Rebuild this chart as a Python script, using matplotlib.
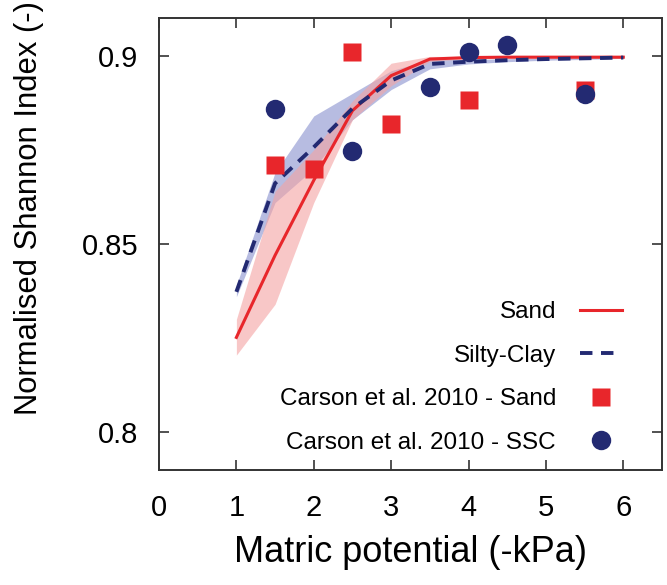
import matplotlib
matplotlib.use("Agg")
import matplotlib.pyplot as plt
import numpy as np

plt.rcParams['font.family'] = ['Liberation Sans', 'DejaVu Sans']

# Model curves
x_model = [1, 1.5, 2, 2.5, 3, 3.5, 4, 4.5, 5, 5.5, 6]
sand_mean = [0.8252, 0.8470, 0.8669, 0.8854, 0.8947, 0.8991, 0.8995, 0.8996, 0.8996, 0.8996, 0.8996]
sand_low = [0.8205, 0.8340, 0.8610, 0.8830, 0.8920, 0.8985, 0.8992, 0.8993, 0.8993, 0.8993, 0.8993]
sand_high = [0.8300, 0.8640, 0.8750, 0.8880, 0.8980, 0.8998, 0.8998, 0.8998, 0.8998, 0.8998, 0.8998]

clay_mean = [0.8373, 0.8661, 0.8757, 0.8860, 0.8934, 0.8978, 0.8984, 0.8988, 0.8991, 0.8993, 0.8995]
clay_low = [0.8360, 0.8610, 0.8700, 0.8830, 0.8910, 0.8965, 0.8978, 0.8984, 0.8988, 0.8990, 0.8993]
clay_high = [0.8390, 0.8690, 0.8840, 0.8900, 0.8960, 0.8990, 0.8990, 0.8992, 0.8994, 0.8996, 0.8997]

# Carson et al. 2010 observations
carson_sand_x = [1.5, 2, 2.5, 3, 4, 5.5]
carson_sand_y = [0.8709, 0.8700, 0.9009, 0.8819, 0.8881, 0.8909]
carson_ssc_x = [1.5, 2.5, 3.5, 4, 4.5, 5.5]
carson_ssc_y = [0.8859, 0.8748, 0.8918, 0.9009, 0.9029, 0.8899]

x_ticks = [0, 1, 2, 3, 4, 5, 6]
y_ticks = [0.8, 0.85, 0.9]
y_ticklabels = ['0.8', '0.85', '0.9']

RED = '#e8262b'
NAVY = '#232a72'

fig = plt.figure(figsize=(6.67, 5.85), dpi=100)
ax = fig.add_axes([159/667, 1-470/585, (662-159)/667, (470-18)/585])

ax.fill_between(x_model, clay_low, clay_high, color='#9fa6d8', alpha=0.75, lw=0, zorder=1)
ax.fill_between(x_model, sand_low, sand_high, color='#f4a3a3', alpha=0.6, lw=0, zorder=1.5)

ax.plot(x_model, sand_mean, color=RED, lw=2.2, label='Sand', zorder=3)
ax.plot(x_model, clay_mean, color=NAVY, lw=2.8, ls=(0, (3.2, 2.2)), label='Silty-Clay', zorder=3)

ax.plot(carson_sand_x, carson_sand_y, ls='none', marker='s', ms=13.5, color=RED,
        mec='none', label='Carson et al. 2010 - Sand', zorder=4)
ax.plot(carson_ssc_x, carson_ssc_y, ls='none', marker='o', ms=14, color=NAVY,
        mec='none', label='Carson et al. 2010 - SSC', zorder=5)

ax.set_xlim(0, 6.5)
ax.set_ylim(0.79, 0.91)
ax.set_xticks(x_ticks)
ax.set_yticks(y_ticks)
ax.set_yticklabels(y_ticklabels)

ax.tick_params(direction='in', length=7, width=1.2, top=True, right=True,
               labelsize=21, color='#333333')
ax.tick_params(axis='x', pad=17)
ax.tick_params(axis='y', pad=15)
for s in ax.spines.values():
    s.set_linewidth(1.4)
    s.set_color('#333333')

ax.set_xlabel('Matric potential (-kPa)', fontsize=26, labelpad=10)
fig.text(29/667, 1-208/585, 'Normalised Shannon Index (-)', rotation=90,
         ha='center', va='center', fontsize=22.3)

leg = ax.legend(loc='lower right', bbox_to_anchor=(0.939, 0.0146), borderaxespad=0,
                frameon=False, markerfirst=False, fontsize=17.5,
                handlelength=1.7, handletextpad=1.0, labelspacing=0.88)

fig.savefig('out.png', dpi=100)
